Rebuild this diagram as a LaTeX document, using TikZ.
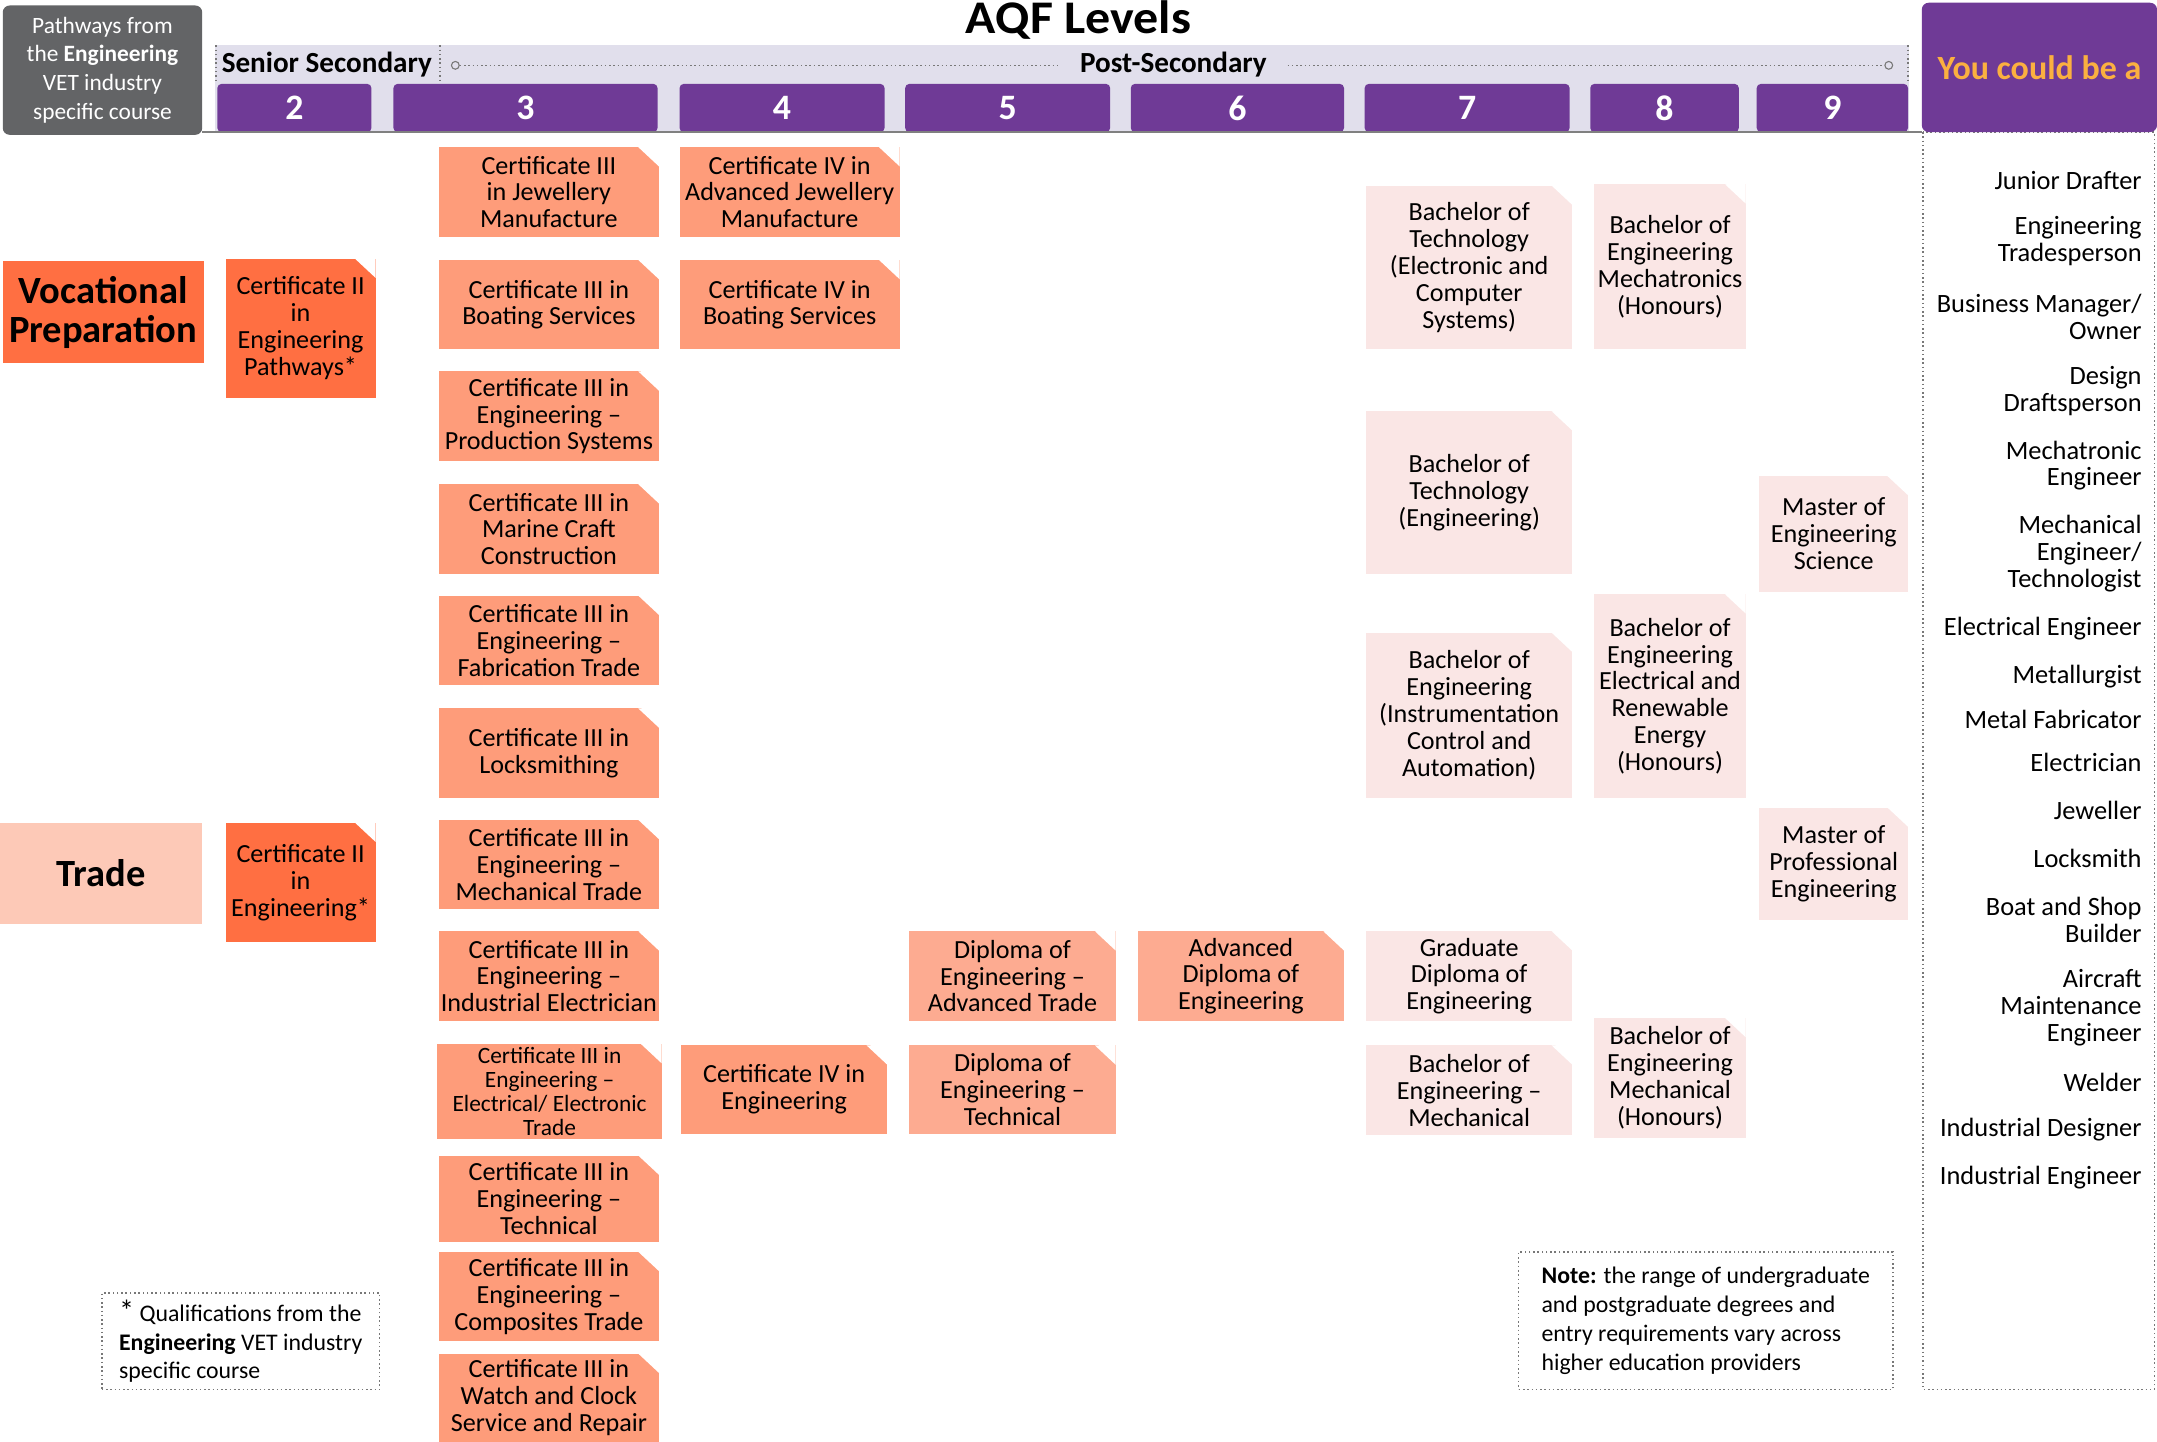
\documentclass[tikz,border=0pt]{standalone}
\usepackage{fontspec}
\setmainfont{Carlito}
\newfontfamily\titlefont[FakeStretch=1.07]{Carlito}

\definecolor{aqfpurple}{RGB}{111,58,150}
\definecolor{bandlav}{RGB}{225,223,236}
\definecolor{pathgray}{RGB}{99,100,102}
\definecolor{youorange}{RGB}{251,176,64}
\definecolor{vocorange}{RGB}{255,111,66}
\definecolor{tradepeach}{RGB}{253,201,183}
\definecolor{certsalmon}{RGB}{254,156,122}
\definecolor{diplsalmon}{RGB}{253,171,145}
\definecolor{degpink}{RGB}{250,230,229}
\definecolor{dotgray}{RGB}{120,120,120}

\begin{document}
\begin{tikzpicture}[x=1pt, y=-1pt,
  qual/.style={rectangle, inner sep=0pt, align=center, font=\fontsize{19}{19.5}\selectfont,
    path picture={\fill[white] ([xshift=-15pt]path picture bounding box.north east)
      -- ([xshift=1pt, yshift=1pt]path picture bounding box.north east)
      -- ([yshift=-14pt]path picture bounding box.north east) -- cycle;}},
  certtwo/.style={qual, fill=vocorange},
  certbox/.style={qual, fill=certsalmon},
  diplbox/.style={qual, fill=diplsalmon},
  degbox/.style={qual, fill=degpink},
  level/.style={fill=aqfpurple, rounded corners=3pt, text=white, inner sep=0pt,
    minimum height=35pt, font=\fontsize{26}{26}\selectfont\bfseries},
  career/.style={anchor=east, align=right, inner sep=0pt,
    font=\fontsize{19.2}{19.5}\selectfont},
  sidelabel/.style={inner sep=0pt, align=center, minimum height=74pt,
    font=\fontsize{28}{28}\selectfont\bfseries},
  dotbox/.style={draw=dotgray, dotted, line width=1.1pt, align=left, inner sep=0pt,
    font=\fontsize{17.3}{21}\selectfont},
  headtext/.style={inner sep=0pt, anchor=base, font=\fontsize{21.2}{21.2}\selectfont\bfseries}
]
\useasboundingbox (0,0) rectangle (1568,1048);

% header
\node [fill=pathgray, rounded corners=5pt, minimum width=145pt, minimum height=94pt,
  inner sep=0pt, text=white, align=center, font=\fontsize{17}{21}\selectfont]
  (pathways) at (74.5,51) {Pathways from\\the \textbf{Engineering}\\VET industry\\specific course};
\node [anchor=base, inner sep=0pt, font=\titlefont\fontsize{34}{34}\selectfont\bfseries] (aqf) at (784,24) {AQF Levels};
\fill [bandlav] (156,33) rectangle (1388,96);
\node [headtext, anchor=base west] (senior) at (161,53) {Senior Secondary};
\node [headtext, inner xsep=15pt] (postsec) at (853,53) {Post-Secondary};
\node [circle, draw=dotgray, line width=0.8pt, inner sep=2pt] (psleft) at (331,47.5) {};
\node [circle, draw=dotgray, line width=0.8pt, inner sep=2pt] (psright) at (1373,47.5) {};
\draw [dotgray, dotted, line width=1.1pt] (psleft) -- (postsec.west |- psleft);
\draw [dotgray, dotted, line width=1.1pt] (postsec.east |- psright) -- (psright);
\draw [dotgray, dotted, line width=1.1pt] (157,33) -- (157,60);
\draw [dotgray, dotted, line width=1.1pt] (320,33) -- (320,60);
\draw [dotgray, dotted, line width=1.1pt] (1387,33) -- (1387,60);

\node [level, minimum width=112pt] (lv2) at (214,78.5) {2};
\node [level, minimum width=192pt] (lv3) at (382,78.5) {3};
\node [level, minimum width=149pt] (lv4) at (568.5,78.5) {4};
\node [level, minimum width=149pt] (lv5) at (732.5,78.5) {5};
\node [level, minimum width=155pt] (lv6) at (899.5,78.5) {6};
\node [level, minimum width=149pt] (lv7) at (1066.5,78.5) {7};
\node [level, minimum width=108pt] (lv8) at (1210,78.5) {8};
\node [level, minimum width=110pt] (lv9) at (1332,78.5) {9};
\draw [gray, line width=1pt] (147,96) -- (1397,96);

% careers column
\draw [dotgray, dotted, line width=1.1pt] (1398,96) rectangle (1566,1010);
\node [fill=aqfpurple, rounded corners=5pt, minimum width=171pt, minimum height=94pt,
  inner sep=0pt, text=youorange, font=\fontsize{24.7}{24.7}\selectfont\bfseries]
  (youcould) at (1482.5,49) {You could be a};

\node [career] (jdrafter) at (1557,131) {Junior Drafter};
\node [career] (tradesp) at (1557,175.5) {Engineering\\Tradesperson};
\node [career] (busman) at (1557,230.5) {Business Manager/\\Owner};
\node [career] (draftsp) at (1557,284.5) {Design\\Draftsperson};
\node [career] (mechatr) at (1557,338.5) {Mechatronic\\Engineer};
\node [career] (mechen) at (1557,402.5) {Mechanical\\Engineer/\\Technologist};
\node [career] (elecen) at (1557,457) {Electrical Engineer};
\node [career] (metall) at (1557,492) {Metallurgist};
\node [career] (metfab) at (1557,523) {Metal Fabricator};
\node [career] (electn) at (1557,554) {Electrician};
\node [career] (jeweller) at (1557,589) {Jeweller};
\node [career] (locksm) at (1557,624) {Locksmith};
\node [career] (boatb) at (1557,668.5) {Boat and Shop\\Builder};
\node [career] (aircraft) at (1557,732.5) {Aircraft\\Maintenance\\Engineer};
\node [career] (welder) at (1557,787) {Welder};
\node [career] (inddes) at (1557,821) {Industrial Designer};
\node [career] (indeng) at (1557,856) {Industrial Engineer};

% row labels
\node [sidelabel, fill=vocorange, minimum width=146pt] (vocprep) at (75,227) {Vocational\\Preparation};
\node [sidelabel, fill=tradepeach, minimum width=147pt] (trade) at (73.5,635) {Trade};

% level 2
\node [certtwo, minimum width=109pt, minimum height=101pt] (cert2path) at (218.5,238.5) {Certificate II\\in\\Engineering\\Pathways*};
\node [certtwo, minimum width=109pt, minimum height=87pt] (cert2eng) at (218.5,641.5) {Certificate II\\in\\Engineering*};

% level 3
\node [certbox, minimum width=160pt, minimum height=65pt] (jewel3) at (399,139.5) {Certificate III\\in Jewellery\\Manufacture};
\node [certbox, minimum width=160pt, minimum height=65pt] (boat3) at (399,221.5) {Certificate III in\\Boating Services};
\node [certbox, minimum width=160pt, minimum height=65pt] (prod3) at (399,302.5) {Certificate III in\\Engineering –\\Production Systems};
\node [certbox, minimum width=160pt, minimum height=65pt] (marine3) at (399,384.5) {Certificate III in\\Marine Craft\\Construction};
\node [certbox, minimum width=160pt, minimum height=65pt] (fabr3) at (399,465.5) {Certificate III in\\Engineering –\\Fabrication Trade};
\node [certbox, minimum width=160pt, minimum height=65pt] (lock3) at (399,547.5) {Certificate III in\\Locksmithing};
\node [certbox, minimum width=160pt, minimum height=65pt] (mech3) at (399,628.5) {Certificate III in\\Engineering –\\Mechanical Trade};
\node [certbox, minimum width=160pt, minimum height=65pt] (indel3) at (399,709.5) {Certificate III in\\Engineering –\\Industrial Electrician};
\node [certbox, minimum width=163pt, minimum height=69pt, font=\fontsize{17}{17.3}\selectfont] (elec3) at (399.5,793.5) {Certificate III in\\Engineering –\\Electrical/ Electronic\\Trade};
\node [certbox, minimum width=160pt, minimum height=63pt] (tech3) at (399,871.5) {Certificate III in\\Engineering –\\Technical};
\node [certbox, minimum width=160pt, minimum height=65pt] (comp3) at (399,942.5) {Certificate III in\\Engineering –\\Composites Trade};
\node [certbox, minimum width=160pt, minimum height=64pt] (watch3) at (399,1016) {Certificate III in\\Watch and Clock\\Service and Repair};

% level 4
\node [certbox, minimum width=160pt, minimum height=65pt] (jewel4) at (574,139.5) {Certificate IV in\\Advanced Jewellery\\Manufacture};
\node [certbox, minimum width=160pt, minimum height=65pt] (boat4) at (574,221.5) {Certificate IV in\\Boating Services};
\node [certbox, minimum width=150pt, minimum height=64pt] (eng4) at (570,792) {Certificate IV in\\Engineering};

% levels 5 and 6
\node [diplbox, minimum width=150pt, minimum height=65pt] (dipadv) at (736,709.5) {Diploma of\\Engineering –\\Advanced Trade};
\node [diplbox, minimum width=150pt, minimum height=64pt] (diptech) at (736,792) {Diploma of\\Engineering –\\Technical};
\node [diplbox, minimum width=150pt, minimum height=65pt] (advdip) at (902,709.5) {Advanced\\Diploma of\\Engineering};

% level 7
\node [degbox, minimum width=150pt, minimum height=119pt] (btelec) at (1068,194.5) {Bachelor of\\Technology\\(Electronic and\\Computer\\Systems)};
\node [degbox, minimum width=150pt, minimum height=118pt] (bteng) at (1068,358) {Bachelor of\\Technology\\(Engineering)};
\node [degbox, minimum width=150pt, minimum height=120pt] (beinstr) at (1068,520) {Bachelor of\\Engineering\\(Instrumentation\\Control and\\Automation)};
\node [degbox, minimum width=150pt, minimum height=65pt] (graddip) at (1068,709.5) {Graduate\\Diploma of\\Engineering};
\node [degbox, minimum width=150pt, minimum height=65pt] (bemech) at (1068,792.5) {Bachelor of\\Engineering –\\Mechanical};

% level 8
\node [degbox, minimum width=110pt, minimum height=120pt] (bemecha) at (1214,194) {Bachelor of\\Engineering\\Mechatronics\\(Honours)};
\node [degbox, minimum width=110pt, minimum height=148pt] (beelren) at (1214,506) {Bachelor of\\Engineering\\Electrical and\\Renewable\\Energy\\(Honours)};
\node [degbox, minimum width=110pt, minimum height=87pt] (behmech) at (1214,783.5) {Bachelor of\\Engineering\\Mechanical\\(Honours)};

% level 9
\node [degbox, minimum width=108pt, minimum height=84pt] (mengsci) at (1333,388) {Master of\\Engineering\\Science};
\node [degbox, minimum width=108pt, minimum height=82pt] (mprofeng) at (1333,628) {Master of\\Professional\\Engineering};

% notes
\node [dotbox, minimum width=202pt, minimum height=70pt]
  (footnote) at (175,975) {{\fontsize{22}{21}\selectfont *} Qualifications from the\\\textbf{Engineering} VET industry\\specific course};
\node [dotbox, minimum width=272pt, minimum height=100pt]
  (rangenote) at (1240,960) {\textbf{Note:} the range of undergraduate\\and postgraduate degrees and\\entry requirements vary across\\higher education providers};
\end{tikzpicture}
\end{document}
